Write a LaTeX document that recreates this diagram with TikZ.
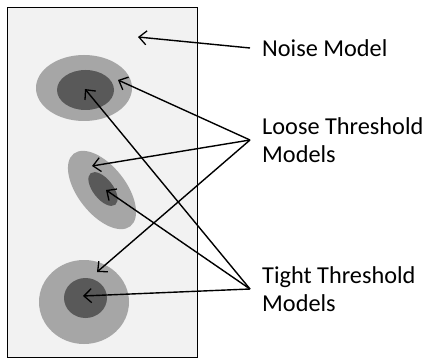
\documentclass[tikz,border=0pt]{standalone}
\usepackage{fontspec}
\usepackage{tikz}
\usetikzlibrary{shapes,arrows.meta,positioning}
\newfontfamily\labelfont{Carlito}
\definecolor{paper}{RGB}{242, 242, 242}
\definecolor{loosegray}{RGB}{166, 166, 166}
\definecolor{tightgray}{RGB}{89, 89, 89}
\tikzstyle{panel} = [draw=black, line width=1pt, fill=paper]
\tikzstyle{loose} = [ellipse, draw=none, fill=loosegray, inner sep=0pt]
\tikzstyle{tight} = [ellipse, draw=none, fill=tightgray, inner sep=0pt]
\tikzstyle{textonly} = [draw=none, fill=none, anchor=west, align=left, inner xsep=12pt, inner ysep=0pt, font=\labelfont\fontsize{24.3}{27.5}\selectfont]
\tikzstyle{tedge}  = [draw, line width=1.4pt, -{Straight Barb[length=7.5pt, width=14pt, line width=1.3pt]}]

\begin{document}
\begin{tikzpicture}[x=1pt, y=-1pt]
\useasboundingbox (0,0) rectangle (428,358);

% panel =============================
\draw[panel] (7,8) rectangle (197,357);

% top model
\node[loose, minimum width=96pt, minimum height=66pt] (oa) at (84,88) {};
\node[tight, minimum width=57pt, minimum height=40pt] (ia) at (85.5,90) {};

% middle model
\node[loose, minimum width=92pt, minimum height=48pt, rotate=-52] (ob) at (102,190) {};
\node[tight, minimum width=40pt, minimum height=20pt, rotate=-52] (ib) at (103,189) {};

% bottom model
\node[loose, minimum width=90pt, minimum height=84pt] (oc) at (84,302) {};
\node[tight, minimum width=43pt, minimum height=40pt] (ic) at (85.5,298) {};

% arrow targets
\coordinate (noisept) at (138,37);
\coordinate (la) at (118,80);
\coordinate (lb) at (92,166);
\coordinate (lc) at (97,272);
\coordinate (ta) at (85,89);
\coordinate (tb) at (106,190);
\coordinate (tc) at (83,296);

%labels

\node[textonly] (noise) at (250,48) {Noise Model};
\node[textonly] (loosem) at (250,140) {Loose Threshold\\Models};
\node[textonly] (tightm) at (250,289) {Tight Threshold\\Models};

%edges noise

\path[tedge] (noise.west) -- (noisept);

%edges loose

\path[tedge] (loosem.west) -- (la);
\path[tedge] (loosem.west) -- (lb);
\path[tedge] (loosem.west) -- (lc);

%edges tight

\path[tedge] (tightm.west) -- (ta);
\path[tedge] (tightm.west) -- (tb);
\path[tedge] (tightm.west) -- (tc);

\end{tikzpicture}
\end{document}
